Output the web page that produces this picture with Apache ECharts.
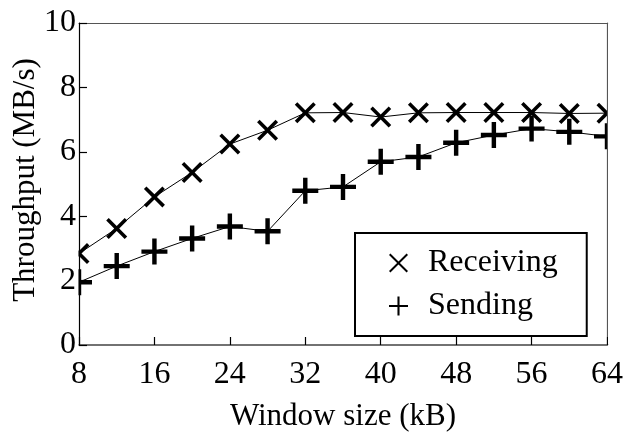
<!DOCTYPE html>
<html>
<head>
<meta charset="utf-8">
<script src="https://cdn.jsdelivr.net/npm/echarts@6/dist/echarts.min.js"></script>
<style>
  html, body { margin: 0; padding: 0; background: #fff; }
  #wrap { position: relative; width: 623px; height: 432px; }
  #chart { width: 623px; height: 432px; }
  #trim { position: absolute; background: #fff; pointer-events: none; z-index: 10; }
</style>
</head>
<body>
<div id="wrap">
  <div id="chart"></div>
  <div id="trim"></div>
</div>
<script>
// Window sizes (kB) at which throughput was measured
const windowSizes = [8, 12, 16, 20, 24, 28, 32, 36, 40, 44, 48, 52, 56, 60, 64];
// Throughput in MB/s
const receiving = [2.84, 3.62, 4.6, 5.36, 6.24, 6.67, 7.21, 7.22, 7.08, 7.21, 7.22, 7.22, 7.22, 7.19, 7.2];
const sending   = [1.95, 2.45, 2.9, 3.31, 3.68, 3.53, 4.79, 4.91, 5.69, 5.84, 6.28, 6.52, 6.72, 6.62, 6.48];
const seriesNames = ['Receiving', 'Sending'];

// Axis ranges
const xRange = { min: 8, max: 64, step: 8 };
const yRange = { min: 0, max: 10, step: 2 };

// Marker shapes (thick cross / plus) and thinner versions for the legend
const CROSS = 'path://M12,0L50,38L88,0L100,12L62,50L100,88L88,100L50,62L12,100L0,88L38,50L0,12Z';
const PLUS = 'path://M41.5,0H58.5V41.5H100V58.5H58.5V100H41.5V58.5H0V41.5H41.5Z';
const CROSS_THIN = 'path://M7.5,0L50,42.5L92.5,0L100,7.5L57.5,50L100,92.5L92.5,100L50,57.5L7.5,100L0,92.5L42.5,50L0,7.5Z';
const PLUS_THIN = 'path://M44.5,0H55.5V44.5H100V55.5H55.5V100H44.5V55.5H0V44.5H44.5Z';

const W = 623, H = 432;
const GRID = { left: 79, right: 16, top: 23, bottom: 87 };
const FONT = 'Liberation Serif';
// frame, labels and legend live on an upper canvas layer above the data
const TOP_LAYER = 1;

// white strip right of the frame hides marker halves past the right edge
const trim = document.getElementById('trim');
trim.style.left = (W - GRID.right + 0.7) + 'px';
trim.style.top = (GRID.top + 1) + 'px';
trim.style.width = (GRID.right) + 'px';
trim.style.height = (H - GRID.top - GRID.bottom - 2) + 'px';

const chart = echarts.init(document.getElementById('chart'), null, { renderer: 'canvas' });

const pairs = vals => windowSizes.map((x, i) => [x, vals[i]]);

const axisText = { fontFamily: FONT, fontSize: 32, color: '#000' };

chart.setOption({
  animation: false,
  backgroundColor: '#fff',
  grid: {
    left: GRID.left, right: GRID.right, top: GRID.top, bottom: GRID.bottom,
    outerBoundsMode: 'none'
  },
  xAxis: [{
    type: 'value', position: 'bottom', zlevel: TOP_LAYER, z: 5,
    min: xRange.min, max: xRange.max, interval: xRange.step,
    name: 'Window size (kB)', nameLocation: 'middle', nameGap: 56, nameMoveOverlap: false,
    nameTextStyle: { fontFamily: FONT, fontSize: 31, color: '#000' },
    axisLine: { show: true, onZero: false, lineStyle: { color: '#444', width: 1.5 } },
    axisTick: { show: true, inside: true, length: 8, lineStyle: { color: '#000', width: 1.2 } },
    axisLabel: Object.assign({ margin: 14 }, axisText),
    splitLine: { show: false }
  }, {
    type: 'value', position: 'top', zlevel: TOP_LAYER, z: 5,
    min: xRange.min, max: xRange.max, interval: xRange.step,
    axisLine: { show: true, onZero: false, lineStyle: { color: '#555', width: 1.2 } },
    axisTick: { show: false }, axisLabel: { show: false }, splitLine: { show: false }
  }],
  yAxis: [{
    type: 'value', position: 'left', zlevel: TOP_LAYER, z: 5,
    min: yRange.min, max: yRange.max, interval: yRange.step,
    name: 'Throughput (MB/s)', nameLocation: 'middle', nameGap: 38, nameRotate: 90,
    nameMoveOverlap: false,
    nameTextStyle: { fontFamily: FONT, fontSize: 31, color: '#000', padding: [0, 0, 0, 8] },
    axisLine: { show: true, onZero: false, lineStyle: { color: '#000', width: 1.2 } },
    axisTick: { show: true, inside: true, length: 8, lineStyle: { color: '#000', width: 1.2 } },
    axisLabel: Object.assign({ margin: 3 }, axisText),
    splitLine: { show: false }
  }, {
    type: 'value', position: 'right', zlevel: TOP_LAYER, z: 5,
    min: yRange.min, max: yRange.max, interval: yRange.step,
    axisLine: { show: true, onZero: false, lineStyle: { color: '#555', width: 1.2 } },
    axisTick: { show: false }, axisLabel: { show: false }, splitLine: { show: false }
  }],
  // white strip left of the frame trims the markers sitting on the left edge
  graphic: {
    zlevel: TOP_LAYER, z: 3,
    elements: [
      { id: 'trimLeft', type: 'rect', zlevel: TOP_LAYER, z: 3, silent: true,
        left: 0, top: 0,
        shape: { x: 0, y: 0, width: GRID.left - 0.5, height: H },
        style: { fill: '#fff' } }
    ]
  },
  legend: {
    orient: 'vertical',
    zlevel: TOP_LAYER, z: 6,
    left: 355, top: 233,
    padding: [14, 29, 14, 34],
    itemGap: 11,
    itemWidth: 19, itemHeight: 19,
    selectedMode: false,
    backgroundColor: '#fff',
    borderColor: '#000', borderWidth: 2,
    textStyle: { fontFamily: FONT, fontSize: 32, lineHeight: 32, color: '#000', padding: [0, 0, 0, 15] },
    itemStyle: { color: '#000', borderWidth: 0 },
    data: [
      { name: seriesNames[0], icon: CROSS_THIN },
      { name: seriesNames[1], icon: PLUS_THIN }
    ]
  },
  series: [{
    name: seriesNames[0], type: 'line', data: pairs(receiving), zlevel: 0, z: 2,
    symbol: CROSS, symbolSize: 21, showAllSymbol: true,
    lineStyle: { color: '#000', width: 1 },
    itemStyle: { color: '#000', borderWidth: 0 },
    emphasis: { disabled: true }, silent: true
  }, {
    name: seriesNames[1], type: 'line', data: pairs(sending), zlevel: 0, z: 2,
    symbol: PLUS, symbolSize: 26, showAllSymbol: true,
    lineStyle: { color: '#000', width: 1 },
    itemStyle: { color: '#000', borderWidth: 0 },
    emphasis: { disabled: true }, silent: true
  }]
});
</script>
</body>
</html>
